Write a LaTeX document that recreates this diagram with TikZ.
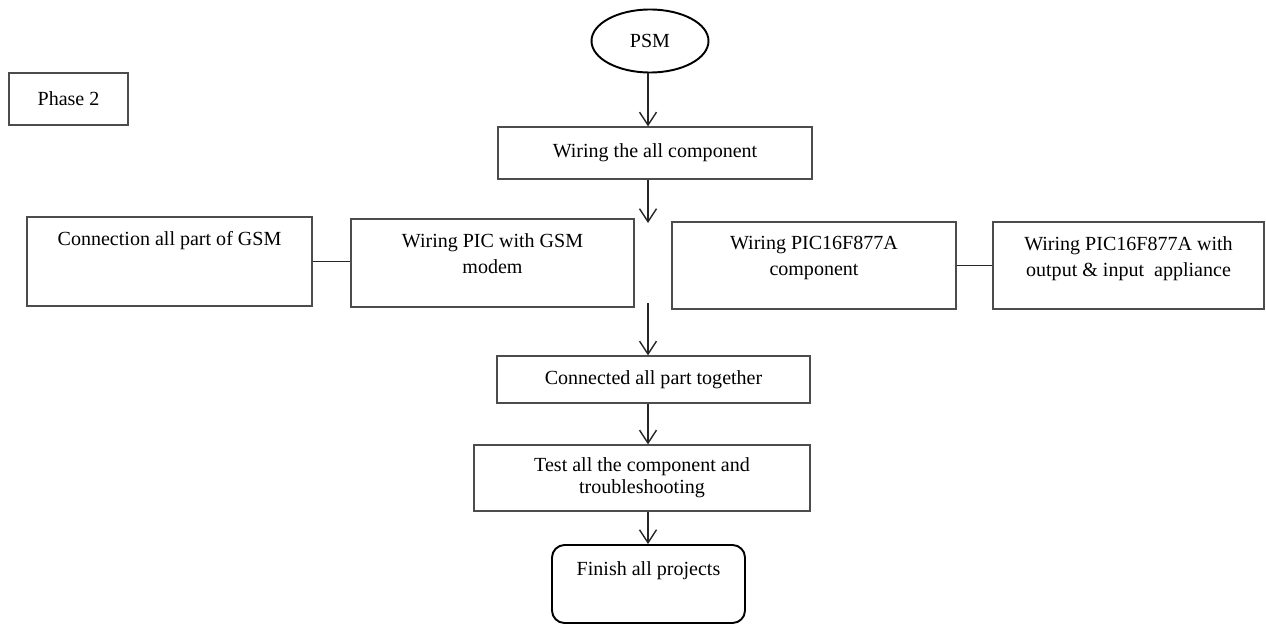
\documentclass[tikz,border=0pt]{standalone}
\usepackage{fontspec}
\setmainfont{Liberation Serif}
\usepackage{tikz}
\usetikzlibrary{arrows.meta,positioning,shapes.geometric}
\tikzset{
  boxnode/.style={rectangle,draw=black!70,line width=0.7pt,inner sep=0pt},
  midbox/.style 2 args={boxnode,align=center,minimum width=#1,minimum height=#2},
  topbox/.style n args={3}{boxnode,inner ysep=#3,font=\fontsize{11.4}{14.7}\selectfont,
    execute at begin node={\begin{minipage}[t][#2][t]{#1}\centering},
    execute at end node={\end{minipage}}},
  startnode/.style={ellipse,draw=black,line width=1.1pt,minimum width=2.34cm,minimum height=1.26cm,inner sep=0pt},
  endnode/.style={draw=black,line width=1.1pt,rounded corners=2.5mm},
  flowarrow/.style={-{Straight Barb[length=2.6mm,width=3.4mm]},line width=0.8pt,black!85},
  linkline/.style={line width=0.8pt,black!85},
}
\begin{document}
\begin{tikzpicture}[font=\fontsize{11.4}{12.5}\selectfont]
  \useasboundingbox (0,0) rectangle (25.32,-12.50);
  \node[midbox={2.38cm}{1.04cm}] (nPhase) at (1.37,-1.98) {Phase 2};
  \node[startnode] (nPSM) at (13.00,-0.82) {PSM};
  \node[midbox={6.28cm}{1.04cm}] (nWire) at (13.10,-3.06) {Wiring the all component};
  \node[topbox={5.70cm}{1.20cm}{0.29cm}] (nGsmAll) at (3.39,-5.23) {Connection all part of GSM};
  \node[topbox={5.66cm}{1.18cm}{0.29cm}] (nPicGsm) at (9.85,-5.26) {Wiring PIC with GSM\\modem};
  \node[topbox={5.68cm}{1.16cm}{0.29cm}] (nPicComp) at (16.28,-5.31) {Wiring PIC16F877A\\component};
  \node[topbox={5.42cm}{1.16cm}{0.29cm}] (nPicIO) at (22.57,-5.31) {Wiring PIC16F877A with\\output \& input\ \ appliance};
  \node[midbox={6.26cm}{0.94cm}] (nJoin) at (13.07,-7.59) {Connected all part together};
  \node[midbox={6.72cm}{1.32cm}] (nTest) at (12.84,-9.56) {Test all the component and\\troubleshooting};
  \node[topbox={3.86cm}{0.88cm}{0.34cm},endnode] (nFinish) at (12.97,-11.68) {Finish all projects};
  \coordinate (cAxis) at (12.96,0);
  \coordinate (cGapIn) at (12.96,-4.46);
  \coordinate (cGapOut) at (12.96,-6.06);
  % main flow
  \draw[flowarrow] (nPSM.south -| cAxis) -- (nWire.north -| cAxis);
  \draw[flowarrow] (nWire.south -| cAxis) -- (cGapIn);
  \draw[flowarrow] (cGapOut) -- (nJoin.north -| cAxis);
  \draw[flowarrow] (nJoin.south -| cAxis) -- (nTest.north -| cAxis);
  \draw[flowarrow] (nTest.south -| cAxis) -- (nFinish.north -| cAxis);
  % side links
  \draw[linkline] (nGsmAll.east) -- (nGsmAll.east -| nPicGsm.west);
  \draw[linkline] (nPicComp.east) -- (nPicComp.east -| nPicIO.west);
\end{tikzpicture}
\end{document}
